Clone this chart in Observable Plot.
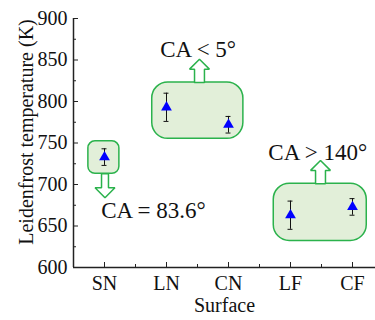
<!DOCTYPE html>
<html><head><meta charset="utf-8">
<script src="https://cdn.jsdelivr.net/npm/d3@7"></script>
<script src="https://cdn.jsdelivr.net/npm/@observablehq/plot@0.6"></script>
<style>body{margin:0;background:#fff;} svg{display:block;} svg text{font-family:"Liberation Serif","Times New Roman",serif;}</style>
</head><body><div id="chart"></div>
<script>
const categories = ["SN", "LN", "CN", "LF", "CF"];
const temps = [733, 793, 772, 663, 673];
const errors = [10, 17, 10, 17, 10];
const yTicks = [600, 650, 700, 750, 800, 850, 900];
const yMinor = [625, 675, 725, 775, 825, 875];
const xTicks = [1, 2, 3, 4, 5];
const xMinor = [1.5, 2.5, 3.5, 4.5];
// annotation boxes (data units)
const boxX1 = [0.74, 1.77, 3.73];
const boxX2 = [1.24, 3.24, 5.23];
const boxY1 = [713, 755, 632];
const boxY2 = [752, 823, 701];
const boxR = [7, 16, 16];
// arrows (data units): centre x, base y, tip y, shaft half width
const arrowX = [1.008, 2.532, 4.484];
const arrowBase = [713, 823, 701];
const arrowTip = [684, 851, 729];
const arrowShaft = [0.056, 0.08, 0.08];
// labels
const noteText = ["CA = 83.6°", "CA < 5°", "CA > 140°"];
const noteX = [1.79, 2.51, 4.44];
const noteY = [669, 863, 738];

const serif = "Liberation Serif";
const green = "#2bb24c", fillG = "#e2efd9";
const data = categories.map((c, i) => ({c, x: i + 1, t: temps[i], e: errors[i]}));
const boxes = boxX1.map((_, i) => ({x1: boxX1[i], x2: boxX2[i], y1: boxY1[i], y2: boxY2[i], r: boxR[i]}));
const arrowPts = [];
arrowX.forEach((x, i) => {
  const b = arrowBase[i], t = arrowTip[i], s = Math.sign(t - b), hl = 12, hw = 0.16, sw = arrowShaft[i];
  const hb = t - s * hl;
  [[x - sw, b], [x - sw, hb], [x - hw, hb], [x, t], [x + hw, hb], [x + sw, hb], [x + sw, b], [x - sw, b]]
    .forEach(([px, py]) => arrowPts.push({k: i, x: px, y: py}));
});
const notes = noteText.map((t, i) => ({t, x: noteX[i], y: noteY[i]}));
const xMax = 0.5 + 302 / 62;
const cap = 0.04;

const plot = Plot.plot({
  width: 375, height: 320,
  marginLeft: 73, marginRight: 0, marginTop: 18, marginBottom: 53,
  style: {fontFamily: serif, background: "white", overflow: "visible"},
  x: {domain: [0.5, xMax], axis: null},
  y: {domain: [600, 900], axis: null},
  marks: [
    ...boxes.map(b => Plot.rect([b], {x1: "x1", x2: "x2", y1: "y1", y2: "y2", fill: fillG, stroke: green, strokeWidth: 1.5, rx: b.r})),
    Plot.line(arrowPts, {x: "x", y: "y", z: "k", fill: "white", stroke: green, strokeWidth: 1.5, strokeLinejoin: "miter"}),
    Plot.ruleX(data, {x: "x", y1: d => d.t - d.e, y2: d => d.t + d.e, stroke: "#111", strokeWidth: 1}),
    Plot.ruleY(data, {y: d => d.t - d.e, x1: d => d.x - cap, x2: d => d.x + cap, stroke: "#111", strokeWidth: 1}),
    Plot.ruleY(data, {y: d => d.t + d.e, x1: d => d.x - cap, x2: d => d.x + cap, stroke: "#111", strokeWidth: 1}),
    Plot.dot(data, {x: "x", y: "t", symbol: "triangle", fill: "#0000ff", r: 4}),
    Plot.text(notes, {x: "x", y: "y", text: "t", fontSize: 23, fontFamily: serif, fill: "#111", lineAnchor: "middle"}),
    // axes
    Plot.ruleX([0.5], {y1: 600, y2: 900, stroke: "#222", strokeWidth: 1.5}),
    Plot.ruleY([600], {x1: 0.5, x2: xMax, stroke: "#222", strokeWidth: 1.5}),
    Plot.ruleY(yTicks, {y: d => d, x1: 0.5, x2: 0.5 + 5 / 62, stroke: "#222"}),
    Plot.ruleY(yMinor, {y: d => d, x1: 0.5, x2: 0.5 + 3 / 62, stroke: "#222"}),
    Plot.ruleX(xTicks, {x: d => d, y1: 600, y2: 600 + 5 / 0.83, stroke: "#222"}),
    Plot.ruleX(xMinor, {x: d => d, y1: 600, y2: 600 + 3 / 0.83, stroke: "#222"}),
    Plot.axisY({ticks: yTicks, tickSize: 0, tickPadding: 6, fontSize: 20, fontFamily: serif, color: "#111"}),
    Plot.axisX({ticks: xTicks, tickSize: 0, tickPadding: 8, fontSize: 20, fontFamily: serif, color: "#111", tickFormat: d => categories[d - 1]}),
    Plot.text(["Leidenfrost temperature (K)"], {frameAnchor: "left", textAnchor: "middle", lineAnchor: "middle", rotate: -90, dx: -47, dy: -11, fontSize: 20, fontFamily: serif, fill: "#111"}),
    Plot.text(["Surface"], {frameAnchor: "bottom", lineAnchor: "middle", textAnchor: "middle", dy: 38, fontSize: 20, fontFamily: serif, fill: "#111"})
  ]
});
document.getElementById("chart").appendChild(plot);
</script></body></html>
